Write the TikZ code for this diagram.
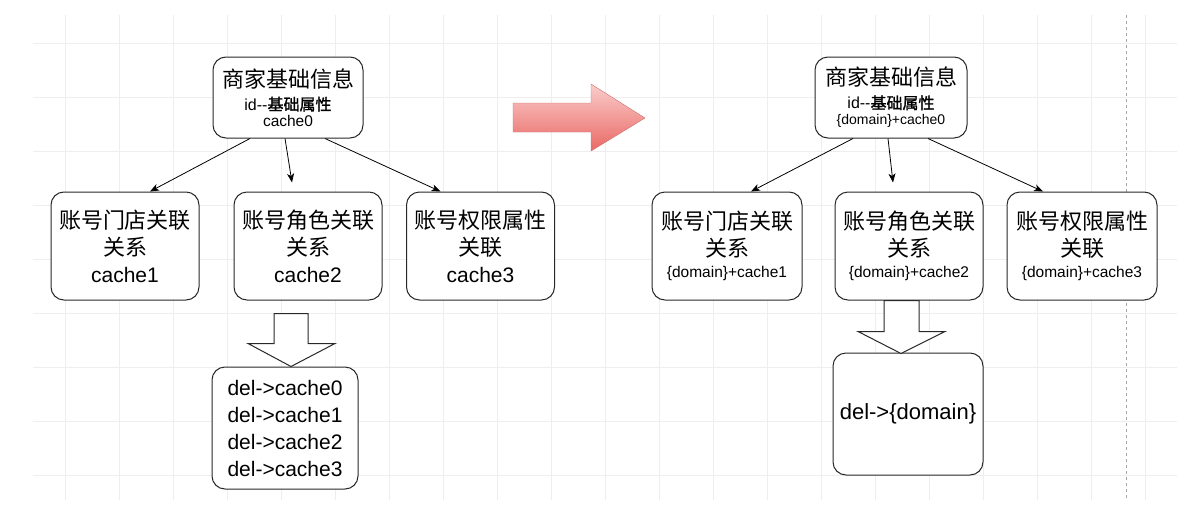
\documentclass[tikz,border=0pt]{standalone}
\usepackage{fontspec}
\setmainfont{Liberation Sans}
\newfontfamily\cjk{Noto Sans CJK SC}
\newfontfamily\cjkbold[FakeBold=1.5]{Noto Sans CJK SC}
\usetikzlibrary{arrows.meta}
\definecolor{boxline}{RGB}{40,40,40}
\definecolor{gridgray}{RGB}{238,238,238}
\definecolor{redtop}{RGB}{250,205,203}
\definecolor{redbottom}{RGB}{233,104,100}
\definecolor{redline}{RGB}{205,110,108}
\tikzstyle{entity} = [rectangle, rounded corners=13pt, minimum width=148pt,
minimum height=108pt, text centered, align=center, inner sep=0pt,
draw=boxline, line width=1pt, fill=white, font=\fontsize{22}{27}\selectfont]
\tikzstyle{root} = [entity, minimum width=150pt, minimum height=81pt,
font=\fontsize{16}{18}\selectfont]
\tikzstyle{purge} = [entity, minimum height=122pt, font=\fontsize{21}{27}\selectfont]
\tikzstyle{arrow} = [line width=0.8pt, -{Stealth[length=9pt,width=7pt,inset=2.5pt]}]
\tikzstyle{hollow} = [draw=boxline, line width=1pt, fill=white]
\tikzstyle{gridline} = [draw=gridgray, line width=0.8pt]

\begin{document}
\begin{tikzpicture}[x=1pt, y=-1pt, node distance=148.5pt]
              \useasboundingbox (0,0) rectangle (1203,525);
              \foreach \x in {65,119,...,1145} \draw [gridline] (\x,15) -- (\x,500);
              \foreach \y in {43,97,...,475} \draw [gridline] (33,\y) -- (1177,\y);
              \draw [gray!70, line width=0.8pt, dash pattern=on 3pt off 3pt] (1126,15) -- (1126,500);

              \node (top) [root] at (288,97.5) {{\fontsize{22}{22}\selectfont\cjk
              商家基础信息}\\[5pt]id-{}-{\cjkbold 基础属性}\\[-2pt]{\fontsize{15.5}{18}\selectfont
              cache0}};
              \node (acc) [entity, below of=top, xshift=-163pt] {{\cjk 账号门店关联}\\{\cjk
              关系}\\{\fontsize{21}{27}\selectfont cache1}};
              \node (role) [entity, below of=top, xshift=20pt] {{\cjk 账号角色关联}\\{\cjk
              关系}\\{\fontsize{21}{27}\selectfont cache2}};
              \node (perm) [entity, below of=top, xshift=192.5pt] {{\cjk 账号权限属性}\\{\cjk
              关联}\\{\fontsize{21}{27}\selectfont cache3}};
              \node (del) [purge, node distance=182pt, below of=role, xshift=-23pt,
              minimum width=146pt] {del->cache0\\del->cache1\\del->cache2\\del->cache3};

              \node (top2) [root, minimum width=152pt] at (891,97.5) {{\fontsize{22}{22}\selectfont\cjk
              商家基础信息}\\[5pt]id-{}-{\cjkbold 基础属性}\\[-2pt]{\fontsize{14}{18}\selectfont
              \{domain\}+cache0}};
              \node (acc2) [entity, below of=top2, xshift=-164pt, minimum width=150pt] {{\cjk
              账号门店关联}\\{\cjk 关系}\\[-6pt]{\fontsize{15.5}{18}\selectfont \{domain\}+cache1}};
              \node (role2) [entity, below of=top2, xshift=18pt] {{\cjk
              账号角色关联}\\{\cjk 关系}\\[-6pt]{\fontsize{15.5}{18}\selectfont \{domain\}+cache2}};
              \node (perm2) [entity, below of=top2, xshift=191pt, minimum width=150pt] {{\cjk
              账号权限属性}\\{\cjk 关联}\\[-6pt]{\fontsize{15.5}{18}\selectfont \{domain\}+cache3}};
              \node (del2) [purge, node distance=168pt, below of=role2, xshift=-1pt,
              minimum width=150pt, font=\fontsize{22}{27}\selectfont] {del->\{domain\}};

              \draw [arrow] ([xshift=-38pt]top.south) -- ([xshift=25pt]acc.north);
              \draw [arrow] ([xshift=-3pt]top.south) -- ([xshift=-16pt,yshift=9pt]role.north);
              \draw [arrow] ([xshift=37pt]top.south) -- ([xshift=-40pt]perm.north);
              \draw [hollow] ([xshift=-34pt,yshift=-13pt]role.south) -- ++(34,0) -- ++(0,30)
              -- ++(27,0) -- ++(-44,23) -- ++(-43,-23) -- ++(26,0) -- cycle;

              \draw [arrow] ([xshift=-38pt]top2.south) -- ([xshift=24pt]acc2.north);
              \draw [arrow] ([xshift=-3pt]top2.south) -- ([xshift=-16pt,yshift=9pt]role2.north);
              \draw [arrow] ([xshift=37pt]top2.south) -- ([xshift=-39pt]perm2.north);
              \draw [hollow] ([xshift=-25pt]role2.south) -- ++(35,0) -- ++(0,31)
              -- ++(26,0) -- ++(-44,22) -- ++(-43,-22) -- ++(26,0) -- cycle;

              \draw [draw=redline, top color=redtop, bottom color=redbottom] (513,103) -- (591,103)
              -- (591,84) -- (645,118) -- (591,151) -- (591,132) -- (513,132) -- cycle;
            \end{tikzpicture}
\end{document}
